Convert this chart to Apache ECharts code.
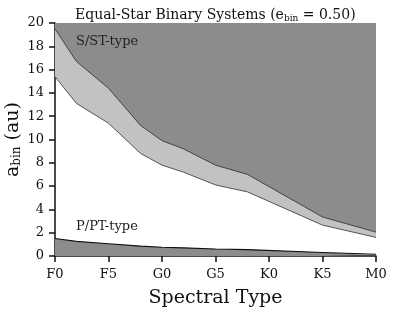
<!DOCTYPE html>
<html><head><meta charset="utf-8">
<script src="https://cdn.jsdelivr.net/npm/echarts@6/dist/echarts.min.js"></script>
<style>html,body{margin:0;padding:0;background:#fff}#c{width:415px;height:312px}</style>
</head><body><div id="c"></div>
<script>
// x positions in spectral subclasses (F0=0, F5=5, G0=10, ... M0=30)
var xSub = [0, 2, 5, 8, 10, 12, 15, 18, 25, 30];
var tickLabels = ['F0', 'F5', 'G0', 'G5', 'K0', 'K5', 'M0'];
// S/ST-type upper boundary (dark region above)
var sUpper = [19.5, 16.7, 14.4, 11.2, 9.9, 9.2, 7.8, 7.0, 3.35, 2.05];
// S/ST-type lower boundary (light band)
var sLower = [15.4, 13.1, 11.4, 8.8, 7.8, 7.2, 6.1, 5.5, 2.65, 1.6];
// P/PT-type boundary
var pLine = [1.5, 1.25, 1.05, 0.85, 0.75, 0.7, 0.6, 0.55, 0.3, 0.15];

function pairs(ys){ return xSub.map(function(x,i){ return [x, ys[i]]; }); }
var serif = 'DejaVu Serif';
var chart = echarts.init(document.getElementById('c'));
chart.setOption({
  animation: false,
  title: {
    text: '{n|Equal-Star Binary Systems (e}{s|bin}{n| = 0.50)}',
    left: 70, top: 3,
    textStyle: { fontWeight: 'normal', rich: {
      n: { fontFamily: serif, fontSize: 14, color: '#111', fontWeight: 'normal' },
      s: { fontFamily: serif, fontSize: 9, color: '#111', fontWeight: 'normal', verticalAlign: 'bottom', padding: [6,0,0,0] }
    }}
  },
  grid: { left: 55, right: 39, top: 23, bottom: 56, containLabel: false, outerBoundsMode: 'none' },
  xAxis: {
    type: 'value', min: 0, max: 30, interval: 5,
    name: 'Spectral Type', nameLocation: 'middle', nameGap: 33, nameMoveOverlap: false,
    nameTextStyle: { fontFamily: serif, fontSize: 19, color: '#111' },
    axisLine: { show: true, onZero: false, lineStyle: { color: '#111', width: 1.5 } },
    axisTick: { show: true, length: 6, lineStyle: { color: '#111', width: 1.5 } },
    axisLabel: { fontFamily: serif, fontSize: 13, color: '#111', margin: 12,
      formatter: function(v){ return tickLabels[Math.round(v/5)]; } },
    splitLine: { show: false }
  },
  yAxis: {
    type: 'value', min: 0, max: 20, interval: 2,
    name: '{n|a}{s|bin}{n| (au)}', nameLocation: 'middle', nameGap: 32, nameRotate: 90, nameMoveOverlap: false,
    nameTextStyle: { rich: {
      n: { fontFamily: serif, fontSize: 19, color: '#111' },
      s: { fontFamily: serif, fontSize: 12, color: '#111', verticalAlign: 'bottom', padding: [8,0,0,0] }
    }},
    axisLine: { show: true, lineStyle: { color: '#111', width: 1.5 } },
    axisTick: { show: true, length: 6, lineStyle: { color: '#111', width: 1.5 } },
    axisLabel: { fontFamily: serif, fontSize: 13, color: '#111', margin: 11 },
    splitLine: { show: false }
  },
  graphic: [
    { type: 'text', left: 76, top: 35, style: { text: 'S/ST-type', font: '13px "DejaVu Serif"', fill: '#222' }, z: 100 },
    { type: 'text', left: 76, top: 220, style: { text: 'P/PT-type', font: '13px "DejaVu Serif"', fill: '#222' }, z: 100 }
  ],
  series: [
    { type: 'line', data: pairs(sLower), symbol: 'none', z: 1,
      lineStyle: { color: '#555', width: 1 },
      areaStyle: { origin: 'end', color: '#c2c2c2', opacity: 1 } },
    { type: 'line', data: pairs(sUpper), symbol: 'none', z: 2,
      lineStyle: { color: '#444', width: 1 },
      areaStyle: { origin: 'end', color: '#8c8c8c', opacity: 1 } },
    { type: 'line', data: pairs(pLine), symbol: 'none', z: 3,
      lineStyle: { color: '#111', width: 1.2 },
      areaStyle: { origin: 'start', color: '#8c8c8c', opacity: 1 } }
  ]
});
</script></body></html>
